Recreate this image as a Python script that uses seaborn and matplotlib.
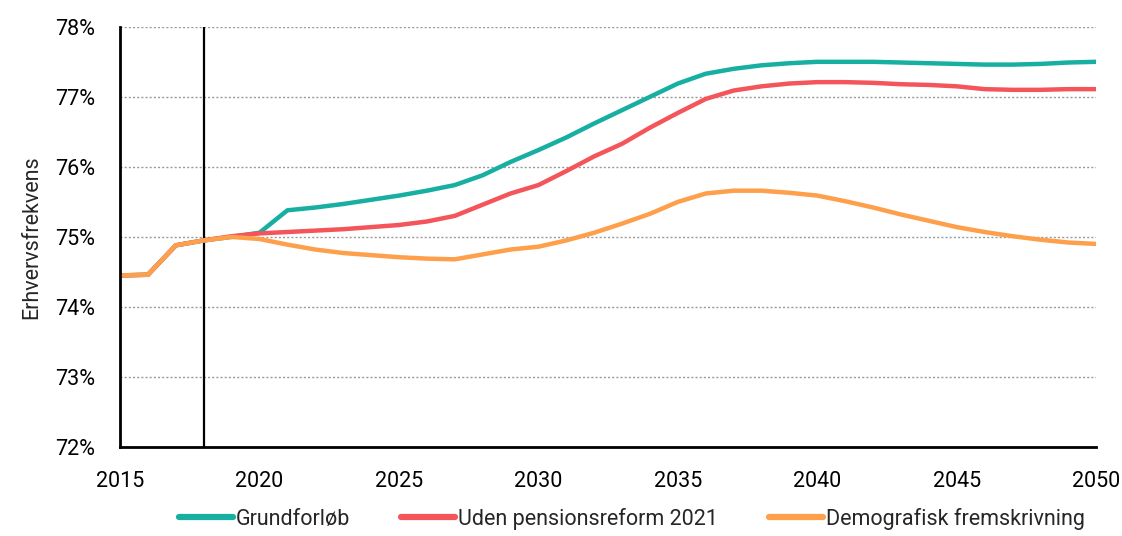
"""
    erhvervsfrekvens 2015-2050, tre forløb
"""

import pandas as pd
import matplotlib
matplotlib.use("Agg")
import matplotlib.pyplot as plt
import seaborn as sns
from matplotlib.ticker import FuncFormatter

years = list(range(2015, 2051))

grundforloeb = [74.45, 74.46, 74.88, 74.95, 75.00, 75.06, 75.38, 75.42, 75.47, 75.53,
                75.59, 75.66, 75.74, 75.88, 76.07, 76.24, 76.42, 76.62, 76.81, 77.00,
                77.19, 77.33, 77.40, 77.45, 77.48, 77.50, 77.50, 77.50, 77.49, 77.48,
                77.47, 77.46, 77.46, 77.47, 77.49, 77.50]

uden_reform = [74.45, 74.46, 74.88, 74.95, 75.01, 75.05, 75.07, 75.09, 75.11, 75.14,
               75.17, 75.22, 75.30, 75.46, 75.62, 75.74, 75.94, 76.15, 76.33, 76.56,
               76.77, 76.97, 77.09, 77.15, 77.19, 77.21, 77.21, 77.20, 77.18, 77.17,
               77.15, 77.11, 77.10, 77.10, 77.11, 77.11]

demografisk = [74.45, 74.46, 74.88, 74.95, 75.00, 74.97, 74.89, 74.82, 74.77, 74.74,
               74.71, 74.69, 74.68, 74.75, 74.82, 74.86, 74.95, 75.06, 75.19, 75.33,
               75.50, 75.62, 75.66, 75.66, 75.63, 75.59, 75.51, 75.42, 75.32, 75.23,
               75.14, 75.07, 75.01, 74.96, 74.92, 74.90]

series_names = ["Grundforløb", "Uden pensionsreform 2021", "Demografisk fremskrivning"]
colors = ["#17AFA1", "#F4555A", "#FE9F4B"]
cut_year = 2018

yticks = [72, 73, 74, 75, 76, 77, 78]
xticks = [2015, 2020, 2025, 2030, 2035, 2040, 2045, 2050]


def build_frame():
    """long format table for seaborn"""
    parts = []
    for name, vals in zip(series_names, [grundforloeb, uden_reform, demografisk]):
        parts.append(pd.DataFrame({"year": years, "value": vals, "serie": name}))
    return pd.concat(parts, ignore_index=True)


sns.set_style("white")
plt.rcParams["font.family"] = ["Roboto", "DejaVu Sans"]

df = build_frame()

fig = plt.figure(figsize=(11.22, 5.36), dpi=100)
ax = fig.add_axes([0.107, 0.166, 0.870, 0.784])

# gridlines first so lines sit on top
for y in yticks[1:]:
    ax.axhline(y, color="#9a9a9a", lw=1.0, ls=(0, (1.5, 1.5)), zorder=1)

ax.axvline(cut_year, color="black", lw=1.6, zorder=2)

sns.lineplot(data=df, x="year", y="value", hue="serie", hue_order=series_names,
             palette=colors, linewidth=3.2, ax=ax, zorder=3,
             solid_capstyle="round")

ax.set_xlim(2015, 2050)
ax.set_ylim(72, 78)
ax.set_xticks(xticks)
ax.set_yticks(yticks)
ax.yaxis.set_major_formatter(FuncFormatter(lambda v, p: f"{v:.0f}%"))
ax.tick_params(axis="both", direction="out", length=7, width=1.6,
               color="black", labelsize=15.5, labelcolor="black")
ax.tick_params(axis="x", pad=10)
ax.tick_params(axis="y", pad=11)

for side in ["top", "right"]:
    ax.spines[side].set_visible(False)
for side in ["left", "bottom"]:
    ax.spines[side].set_color("black")
    ax.spines[side].set_linewidth(2.0)
    ax.spines[side].set_zorder(4)

ax.set_xlabel("")
ax.set_ylabel("Erhvervsfrekvens", fontsize=15.5, labelpad=9)

handles, labels = ax.get_legend_handles_labels()
ax.legend_.remove()
for h in handles:
    h.set_linewidth(4.5)
    h.set_solid_capstyle("round")
fig.legend(handles, labels, loc="lower center", bbox_to_anchor=(0.563, -0.025),
           ncol=3, frameon=False, fontsize=15.5, handlelength=2.5,
           handletextpad=0.12, columnspacing=2.4)

fig.savefig("out.png", dpi=100)
